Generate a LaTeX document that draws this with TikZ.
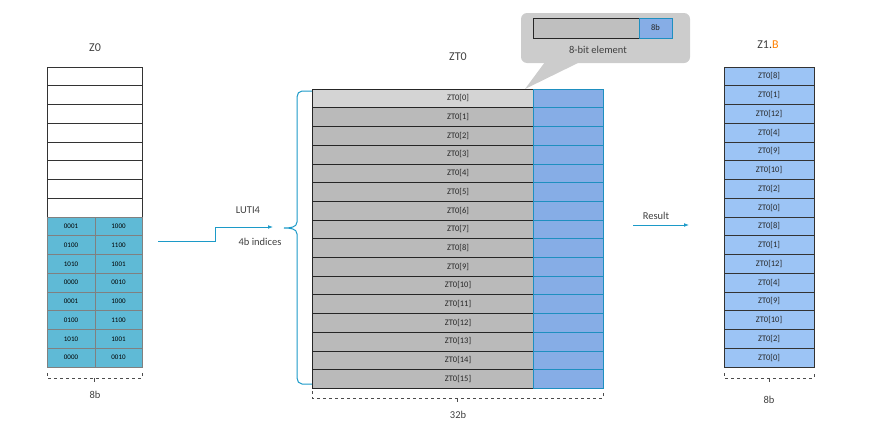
\documentclass[tikz,border=0pt]{standalone}
\usepackage{fontspec}
\setmainfont{Carlito}
\usetikzlibrary{arrows.meta}
\definecolor{zb}{HTML}{5FBAD6}
\definecolor{eb}{HTML}{86ADE6}
\definecolor{ebd}{HTML}{1E8FC0}
\definecolor{zo}{HTML}{9CC4F5}
\definecolor{ac}{HTML}{1C9AC8}
\begin{document}
\begin{tikzpicture}[x=1pt,y=-1pt,
  tx/.style={font=\fontsize{8.5}{10}\selectfont,text=black!85},
  lb/.style={font=\fontsize{12}{14}\selectfont,text=black!75},
  ml/.style={font=\fontsize{10.5}{12}\selectfont,text=black!75},
  z0w/.style={draw=black!80,fill=white,line width=0.6pt},
  bl/.style={draw=ebd,fill=eb,line width=0.6pt},
  zb/.style={draw=black!80,fill=zo,line width=0.6pt},
  dim/.style={dashed,draw=black!70,line width=0.6pt},
  arr/.style={draw=ac,line width=0.8pt,-{Latex[length=5pt]}}]
\useasboundingbox (0,0) rectangle (880,442);
% Z0
\node[lb] (z0l) at (95,48) {Z0};
\foreach \i in {0,...,7} \draw[z0w] (47,{67+18.75*\i}) rectangle (142,{67+18.75*(\i+1)});
\foreach \a/\b [count=\i from 0] in {0001/1000,0100/1100,1010/1001,0000/0010,0001/1000,0100/1100,1010/1001,0000/0010}{
  \draw[draw=black!50,fill=zb,line width=0.8pt] (47,{217+18.75*\i}) rectangle (95,{217+18.75*(\i+1)});
  \draw[draw=black!50,fill=zb,line width=0.8pt] (95,{217+18.75*\i}) rectangle (142,{217+18.75*(\i+1)});
  \node[font=\fontsize{7}{8}\selectfont] at (71,{226.4+18.75*\i}) {\a};
  \node[font=\fontsize{7}{8}\selectfont] at (118.5,{226.4+18.75*\i}) {\b};
}
\draw[dim] (47,373) -- (47,378) -- (142,378) -- (142,373);
\draw[dim,solid] (94.5,378) -- (94.5,382);
\node[ml] (z0d) at (95,395) {8b};
% ZT0
\node[lb] (ztl) at (458,57) {ZT0};
\foreach \i in {0,...,15}{
  \ifnum\i=0 \def\fc{black!17}\else\def\fc{black!27}\fi
  \draw[draw=black!85,fill=\fc,line width=0.6pt] (312,{89+18.7*\i}) rectangle (533,{89+18.7*(\i+1)});
  \draw[bl] (533,{89+18.7*\i}) rectangle (603,{89+18.7*(\i+1)});
  \node[tx] at (458,{98.35+18.7*\i}) {ZT0[\i]};
}
\draw[dim] (312,391) -- (312,398) -- (603,398) -- (603,391);
\draw[dim,solid] (457.5,398) -- (457.5,402);
\node[ml] (ztd) at (458,415) {32b};
% callout
\fill[black!20,rounded corners=6pt] (521,13) rectangle (690,63);
\fill[black!20] (545,62) -- (580,62) -- (525,89) -- cycle;
\draw[draw=black!85,fill=black!25,line width=0.6pt] (533,18) rectangle (639,38);
\draw[bl] (639,18) rectangle (672,38);
\node[tx] at (655.5,28) {8b};
\node[ml] at (598,50) {8-bit element};
% brace
\draw[draw=ac,line width=1pt] (312,91) -- (302,91) to[out=180,in=90] (297,97) -- (297,222) to[out=-90,in=0] (284,228) to[out=0,in=90] (297,234) -- (297,378) to[out=-90,in=180] (302,384) -- (312,384);
\coordinate (a0) at (158,241);
\coordinate (a1) at (273,227);
\draw[arr] (a0) -- (215,241) -- (215,227) -- (a1);
\node[ml] at (248,210) {LUTI4};
\node[ml] at (260,242) {4b indices};
% result
\coordinate (r0) at (633,225);
\coordinate (r1) at (689,225);
\draw[arr] (r0) -- (r1);
\node[ml] at (656,216) {Result};
% Z1
\node[lb] (z1l) at (768,45) {Z1.\textcolor{orange}{B}};
\foreach \v [count=\i from 0] in {8,1,12,4,9,10,2,0,8,1,12,4,9,10,2,0}{
  \draw[zb] (724,{67+18.75*\i}) rectangle (814,{67+18.75*(\i+1)});
  \node[tx] at (769,{76.4+18.75*\i}) {ZT0[\v]};
}
\draw[dim] (724,373) -- (724,378) -- (814,378) -- (814,373);
\draw[dim,solid] (769,378) -- (769,382);
\node[ml] (z1d) at (769,400) {8b};
\end{tikzpicture}
\end{document}
